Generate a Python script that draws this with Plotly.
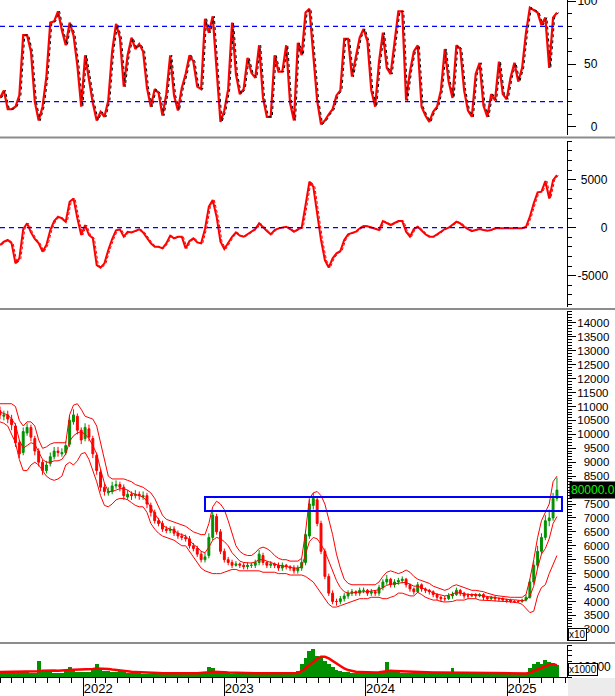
import pandas as pd
import plotly.graph_objects as go

# ---------------- data (sampled every 10 days) ----------------
start_date = "2021-05-31"
n_samples = 145

price_open = [10850,10650,10700,10550,10300,9700,9350,10050,10250,9850,
              9400,9000,8700,8950,9200,9400,9300,9350,9650,10450,
              10650,10150,9850,10200,9850,9250,8650,8100,7900,7950,
              8150,8200,8100,7750,7850,7800,7850,7750,7800,7450,
              7200,6900,6800,6600,6550,6600,6450,6350,6300,6250,
              6000,5900,5700,5500,5650,6300,7050,6500,5800,5500,
              5400,5300,5350,5300,5250,5300,5300,5400,5650,5400,
              5300,5350,5300,5200,5300,5250,5200,5100,5200,5400,
              6350,7450,7650,6800,5800,4900,4300,4000,4000,4100,
              4200,4300,4350,4300,4400,4400,4300,4350,4300,4500,
              4700,4800,4600,4700,4750,4800,4600,4450,4350,4600,
              4450,4400,4350,4250,4150,4100,4100,4200,4250,4400,
              4300,4200,4200,4250,4200,4250,4150,4100,4150,4100,
              4100,4050,4050,4000,4000,4000,4050,4150,4700,5300,
              5800,6300,6900,7000,7700]
price_high = [11000,10850,10850,10700,10400,9800,10250,10400,10350,9950,
              9500,9100,9050,9350,9550,9550,9500,9750,10650,10900,
              10750,10250,10400,10350,9950,9350,8750,8250,8100,8300,
              8350,8300,8200,8000,7950,8000,7950,7950,7900,7550,
              7300,7000,6900,6700,6700,6700,6550,6450,6400,6350,
              6100,6000,5800,5750,6450,7300,7150,6600,5900,5600,
              5500,5450,5400,5400,5400,5400,5500,5850,5750,5450,
              5450,5400,5400,5400,5350,5300,5300,5300,5550,6550,
              7650,7900,7750,6900,5900,5000,4400,4100,4200,4300,
              4400,4450,4400,4500,4500,4450,4450,4400,4600,4800,
              4950,4850,4800,4850,4900,4850,4650,4500,4700,4650,
              4500,4450,4400,4300,4200,4200,4300,4350,4500,4450,
              4350,4300,4300,4300,4300,4300,4200,4200,4200,4150,
              4150,4100,4100,4050,4050,4100,4250,4800,5450,6000,
              6450,7100,7300,7900,8450]
price_low = [10550,10500,10400,10150,9550,9150,9250,9950,9750,9250,
             8850,8550,8600,8850,9100,9200,9200,9250,9550,10350,
             10000,9650,9750,9750,9150,8550,7950,7800,7800,7850,
             8050,7950,7650,7650,7650,7700,7650,7650,7350,7050,
             6800,6700,6500,6450,6450,6350,6250,6200,6150,5900,
             5800,5600,5400,5400,5550,6200,6400,5700,5400,5300,
             5200,5250,5200,5150,5150,5200,5200,5300,5300,5200,
             5200,5200,5100,5100,5150,5100,5000,5000,5100,5300,
             6250,7300,6700,5700,4800,4200,3900,3850,3900,4000,
             4100,4200,4200,4200,4300,4200,4200,4200,4200,4400,
             4600,4500,4500,4600,4650,4500,4350,4250,4300,4350,
             4300,4250,4150,4050,4000,4000,4050,4100,4200,4200,
             4100,4100,4150,4100,4150,4050,4050,4050,4000,4000,
             4000,3950,3950,3950,3950,3950,4000,4100,4600,5200,
             5700,6200,6700,6900,7600]
price_close = [10700,10700,10550,10350,9700,9300,10100,10250,9900,9400,
               9000,8700,8900,9200,9400,9350,9350,9600,10500,10700,
               10150,9800,10250,9900,9300,8700,8100,7950,7950,8150,
               8200,8100,7800,7850,7800,7850,7800,7800,7500,7200,
               6900,6800,6600,6550,6600,6450,6350,6300,6250,6000,
               5900,5700,5500,5600,6300,7100,6500,5800,5500,5400,
               5300,5350,5300,5250,5300,5300,5400,5700,5400,5300,
               5350,5300,5200,5300,5250,5200,5100,5200,5400,6400,
               7500,7700,6800,5800,4900,4300,4000,4000,4100,4200,
               4300,4350,4300,4400,4400,4300,4350,4300,4500,4700,
               4800,4600,4700,4750,4800,4600,4450,4350,4600,4450,
               4400,4350,4250,4150,4100,4100,4200,4250,4400,4300,
               4200,4200,4250,4200,4250,4150,4100,4150,4100,4100,
               4050,4050,4000,4000,4000,4050,4150,4700,5300,5800,
               6300,6900,7000,7700,8000]
band_upper = [11100,11100,11100,11100,11000,10500,10300,10450,10450,10300,
              9800,9500,9550,9650,9700,9700,9700,9700,10700,11050,
              11100,10900,10650,10600,10550,10300,9700,9000,8500,8400,
              8400,8400,8400,8350,8300,8200,8150,8100,8000,7900,
              7700,7400,7100,6950,6900,6850,6800,6750,6700,6600,
              6500,6450,6400,6400,6800,7400,7600,7500,7300,6900,
              6400,6000,5800,5700,5650,5650,5750,5900,5950,5900,
              5800,5650,5550,5500,5500,5450,5450,5450,5550,6500,
              7700,7900,7950,7800,7500,7000,6400,5700,5200,4800,
              4650,4600,4600,4600,4600,4600,4600,4600,4700,4900,
              5050,5100,5050,5000,5050,5130,5050,4900,4800,4750,
              4700,4650,4550,4500,4450,4400,4450,4550,4600,4550,
              4500,4450,4400,4400,4380,4350,4300,4250,4220,4200,
              4180,4160,4150,4150,4150,4150,4250,4800,5500,6300,
              6900,7200,7500,8300,8500]
band_middle = [10800,10750,10700,10550,10350,9800,9500,9600,9700,9650,
               9350,9100,9000,9000,9050,9050,9100,9300,9750,9950,
               10050,10100,10000,9850,9600,9300,8750,8250,7950,7950,
               8000,8050,8050,8000,7900,7850,7800,7750,7600,7350,
               7150,6950,6750,6650,6600,6550,6450,6400,6350,6200,
               6050,5950,5800,5750,5950,6200,6300,6250,6150,6000,
               5750,5600,5450,5400,5380,5380,5420,5500,5500,5450,
               5400,5350,5300,5280,5250,5220,5200,5200,5250,5700,
               6150,6300,6250,6050,5800,5450,5100,4750,4500,4350,
               4300,4300,4330,4350,4350,4350,4370,4380,4420,4500,
               4580,4620,4630,4650,4680,4680,4620,4550,4550,4500,
               4430,4380,4300,4270,4230,4200,4220,4270,4320,4300,
               4270,4250,4250,4250,4220,4200,4170,4150,4120,4100,
               4080,4070,4060,4060,4050,4030,4050,4200,4550,5200,
               5700,5900,6250,6800,7050]
band_lower = [10450,10400,10300,10000,9700,9100,8700,8700,8900,9000,
              8900,8700,8500,8400,8350,8400,8500,8900,9000,8900,
              9050,9300,9350,9100,8700,8300,7800,7450,7400,7500,
              7650,7700,7700,7650,7550,7450,7400,7400,7200,6800,
              6600,6450,6350,6300,6250,6200,6100,6000,6000,5800,
              5600,5400,5200,5100,5050,5000,5000,5000,5050,5100,
              5150,5150,5100,5100,5100,5100,5100,5100,5050,5050,
              5050,5050,5000,5000,5000,4950,4950,4950,4950,4900,
              4800,4700,4500,4300,4100,3900,3800,3800,3850,3900,
              3950,4000,4050,4100,4100,4100,4150,4150,4150,4100,
              4100,4150,4200,4300,4300,4250,4200,4200,4330,4250,
              4150,4100,4050,4050,4000,3980,4000,4000,4050,4050,
              4050,4100,4100,4100,4050,4050,4050,4030,4020,4000,
              4000,4000,3980,3980,3950,3900,3750,3600,3650,4200,
              4500,4600,5000,5300,5650]
stoch_k = [23,29,14,14,16,25,73,73,60,20,
           5,16,40,83,84,92,77,65,83,73,
           49,16,57,36,19,5,12,8,21,60,
           82,71,32,57,71,62,66,60,31,16,
           30,27,9,26,57,25,13,31,42,57,
           52,32,30,86,75,88,42,4,13,30,
           83,42,26,30,55,43,39,65,23,8,
           8,57,44,44,65,19,5,67,57,91,
           94,57,21,2,5,10,14,25,29,70,
           70,40,57,71,78,68,29,16,52,75,
           47,42,67,92,92,21,44,60,65,16,
           9,4,12,16,29,62,36,23,65,62,
           29,13,8,42,51,17,8,26,21,52,
           26,22,39,51,36,47,75,95,93,91,
           81,87,47,87,91]
macd_line = [-1800,-1460,-1280,-1630,-3710,-3190,-140,450,-490,-1180,
             -1630,-2500,-1800,-240,690,1150,970,620,2700,3050,
             970,-760,280,-760,-1110,-3890,-4160,-3710,-2320,-1180,
             -280,-170,-940,-420,-490,-350,-170,-490,-1110,-1630,
             -1980,-1980,-2150,-1630,-830,-1110,-940,-940,-2150,-1390,
             -1110,-1530,-1630,-140,2190,2880,1150,-1460,-2220,-1530,
             -940,-490,-830,-940,-690,-350,-140,450,0,-350,
             -690,-240,-70,0,100,-140,-420,-170,0,2360,
             4790,4270,1490,-1280,-3370,-4160,-3190,-2670,-2430,-1280,
             -690,-590,-420,-70,170,140,0,-140,-240,690,
             490,280,490,690,690,-420,-940,-140,100,-350,
             -690,-940,-940,-690,-420,-140,0,280,620,450,
             100,-140,-350,-240,-140,-240,-310,-240,-70,-70,
             -70,-70,-70,-70,-70,-70,100,1150,2530,3680,
             3750,4860,3050,4960,5480]
volume_k = [4000,4200,4000,3800,4000,4500,5000,4500,4000,4000,
            15000,6000,5000,4500,4200,4000,4000,6000,9000,6000,
            4500,4500,5000,4500,7000,12000,8000,6000,5500,5000,
            4800,5500,4500,4000,3800,3500,3500,3200,3000,3000,
            2800,2800,2500,2500,2500,2500,2500,2600,2500,3000,
            3000,3000,3500,4000,9000,8000,5000,4000,3500,3500,
            3000,3200,3000,3000,3000,3500,3000,4000,3000,3000,
            3000,3000,3000,3000,3000,3000,3200,6000,12000,18000,
            24000,26000,20000,18000,15000,12000,9000,7000,6000,5000,
            4500,4000,4000,3800,3800,3500,3500,3500,4000,4500,
            14000,6000,5000,4500,4000,3800,3800,3500,3500,3500,
            3800,3800,3500,3500,3500,3500,3800,8000,4500,4000,
            4000,3800,3800,3500,3500,3500,3500,3500,3200,3200,
            3200,3000,3000,3000,3000,3200,3500,8000,12000,14000,
            12000,16000,14000,13000,11000]
volume_ma = [4800,4800,4800,4800,4800,4800,4900,5000,5000,5000,
             5500,5800,6000,6000,6000,5800,5800,6000,6500,6800,
             6800,6800,7000,7200,7500,8000,8000,7800,7500,7000,
             6500,6000,5500,5200,5000,4800,4500,4300,4200,4000,
             3800,3700,3600,3500,3400,3400,3300,3300,3300,3400,
             3400,3500,3600,3800,4500,5000,5000,4800,4500,4200,
             4000,3800,3600,3500,3500,3500,3500,3600,3600,3500,
             3400,3400,3300,3300,3300,3300,3300,3800,5500,8000,
             11000,14000,17000,19000,19000,17500,15000,12500,10000,8000,
             6500,5500,5000,4800,4500,4300,4200,4200,4500,5000,
             5500,5800,5600,5400,5200,5000,4800,4700,4600,4500,
             4400,4300,4200,4200,4200,4100,4100,4300,4500,4500,
             4400,4300,4200,4100,4000,3900,3900,3800,3700,3600,
             3500,3400,3300,3200,3200,3200,3300,4000,5500,7000,
             8500,10000,11500,12000,11000]

# resistance zone (blue box)
zone_start, zone_end = "2022-11-12", "2025-05-23"
zone_low, zone_high = 7250, 7750
last_price_label = "80000.0"

price_ticks = list(range(3000, 14001, 500))

for arr in (price_open, price_high, price_low, price_close, band_upper, band_middle,
            band_lower, stoch_k, macd_line, volume_k, volume_ma):
    assert len(arr) == n_samples, len(arr)

dates = pd.date_range(start_date, periods=n_samples, freq="10D")
lag_dates = dates + pd.Timedelta(days=4)

RED = "#FF0000"
GREEN = "#009000"
BLUE = "#0000FF"
FONT = "Liberation Sans, Arial, sans-serif"
FS = "\u2007"   # figure space (digit width)
PS = "\u2008"   # punctuation space

fig = go.Figure()

# --- oscillator panel ---
fig.add_trace(go.Scatter(x=dates, y=stoch_k, mode="lines", line=dict(color=RED, width=2.2),
                         xaxis="x", yaxis="y"))
fig.add_trace(go.Scatter(x=lag_dates, y=stoch_k, mode="lines",
                         line=dict(color="black", width=1, dash="3px,3px"), xaxis="x", yaxis="y"))

# --- MACD panel ---
fig.add_trace(go.Scatter(x=lag_dates, y=macd_line, mode="lines",
                         line=dict(color=RED, width=1, dash="3px,2px"), xaxis="x", yaxis="y2"))
fig.add_trace(go.Scatter(x=dates, y=macd_line, mode="lines", line=dict(color=RED, width=2),
                         xaxis="x", yaxis="y2"))

# --- price panel ---
for band in (band_upper, band_middle, band_lower):
    fig.add_trace(go.Scatter(x=dates, y=band, mode="lines", line=dict(color=RED, width=1),
                             xaxis="x", yaxis="y3"))
fig.add_trace(go.Candlestick(x=dates, open=price_open, high=price_high, low=price_low,
                             close=price_close, xaxis="x", yaxis="y3", whiskerwidth=0,
                             increasing=dict(line=dict(color=GREEN, width=1), fillcolor=GREEN),
                             decreasing=dict(line=dict(color=RED, width=1), fillcolor=RED)))

# --- volume panel ---
fig.add_trace(go.Bar(x=dates, y=volume_k, marker=dict(color=GREEN, line=dict(width=0)),
                     xaxis="x", yaxis="y4"))
fig.add_trace(go.Scatter(x=dates, y=volume_ma, mode="lines", line=dict(color=RED, width=2.5),
                         xaxis="x", yaxis="y4"))

W, H = 615, 696
xr = 567 / W


def dom(top_px, bot_px):
    return [1 - bot_px / H, 1 - top_px / H]


tickfont = dict(family=FONT, size=12, color="black")
common_y = dict(side="right", anchor="x", showgrid=False, zeroline=False, showline=True,
                linecolor="black", linewidth=1, ticks="outside", ticklen=8, tickwidth=1,
                tickcolor="black", tickfont=tickfont, ticklabelstandoff=-1, fixedrange=True,
                automargin=False, ticklabeloverflow="allow")

fig.update_layout(
    template="none",
    width=W, height=H, margin=dict(l=0, r=0, t=0, b=0, pad=0, autoexpand=False),
    paper_bgcolor="white", plot_bgcolor="white", showlegend=False,
    bargap=0, hovermode=False,
    xaxis=dict(domain=[0, xr], anchor="y4", range=["2021-05-31", "2025-06-05"],
               automargin=False, ticklabeloverflow="allow", fixedrange=True,
               showgrid=False, zeroline=False, showline=True, linecolor="black", linewidth=1,
               rangeslider=dict(visible=False), tickmode="linear", tick0="2022-01-01",
               dtick="M12", tickformat="%Y", ticks="outside", ticklen=19, tickcolor="black",
               tickwidth=1, tickfont=dict(family=FONT, size=13, color="black"),
               ticklabelshift=15, ticklabelstandoff=-20,
               minor=dict(dtick="M1", tick0="2022-01-01", ticks="outside", ticklen=5,
                          tickcolor="black", tickwidth=1)),
    yaxis=dict(domain=dom(0, 135), range=[-6.5, 101], tickmode="array",
               tickvals=[0, 50, 100], ticktext=[FS + FS + "0", FS + "50", "100"],
               minor=dict(tickmode="linear", tick0=0, dtick=10, ticks="outside", ticklen=4,
                          tickcolor="black"),
               **common_y),
    yaxis2=dict(domain=dom(141, 307), range=[-8260, 9031], tickmode="array",
                tickvals=[-5000, 0, 5000],
                ticktext=["-5000", PS + FS + FS + FS + "0", PS + "5000"],
                minor=dict(tickmode="linear", tick0=0, dtick=1000, ticks="outside", ticklen=4,
                           tickcolor="black"),
                **common_y),
    yaxis3=dict(domain=dom(311, 641), range=[2581, 14430], tickmode="array",
                tickvals=price_ticks,
                ticktext=[(str(v) if v >= 10000 else FS + str(v)) for v in price_ticks],
                minor=dict(tickmode="linear", tick0=0, dtick=100, ticks="outside", ticklen=4,
                           tickcolor="black"),
                **{**common_y, "tickfont": dict(family=FONT, size=11.5, color="black")}),
    yaxis4=dict(domain=dom(645, 677), range=[0, 30000], tickmode="array",
                tickvals=[10000], ticktext=["10000"],
                minor=dict(tickmode="linear", tick0=0, dtick=5000, ticks="outside", ticklen=4,
                           tickcolor="black"),
                **common_y),
)

shapes = []
# reference dashed lines
for yv in (80, 20):
    shapes.append(dict(type="line", xref="x domain", yref="y", x0=0, x1=1, y0=yv, y1=yv,
                       line=dict(color=BLUE, width=1.3, dash="5px,4px")))
shapes.append(dict(type="line", xref="x domain", yref="y2", x0=0, x1=1, y0=0, y1=0,
                   line=dict(color=BLUE, width=1.3, dash="5px,4px")))
# resistance zone
shapes.append(dict(type="rect", xref="x", yref="y3", x0=zone_start, x1=zone_end,
                   y0=zone_low, y1=zone_high, line=dict(color=BLUE, width=2),
                   fillcolor="rgba(0,0,0,0)"))
# panel separators
for ypx in (137.5, 309, 643):
    shapes.append(dict(type="line", xref="paper", yref="paper", x0=0, x1=1,
                       y0=1 - ypx / H, y1=1 - ypx / H, line=dict(color="#8c8c8c", width=2)))
# grey corner under the value axes
shapes.append(dict(type="rect", xref="paper", yref="paper", x0=xr + 1 / W, x1=1, y0=0,
                   y1=1 - 678 / H, fillcolor="#ECECEC", line=dict(width=0)))
fig.update_layout(shapes=shapes)

fig.update_layout(annotations=[
    dict(xref="paper", yref="y3", x=569 / W, y=price_close[-1], xanchor="left",
         yanchor="middle", text=last_price_label, showarrow=False,
         font=dict(family=FONT, size=12, color="#00FF00"), bgcolor="black", borderpad=1),
    dict(xref="paper", yref="paper", x=568 / W, y=1 - 641 / H, xanchor="left",
         yanchor="bottom", text="x10", showarrow=False,
         font=dict(family=FONT, size=10, color="black"), bgcolor="white",
         bordercolor="black", borderwidth=1, borderpad=0),
    dict(xref="paper", yref="paper", x=568 / W, y=1 - 676 / H, xanchor="left",
         yanchor="bottom", text="x1000", showarrow=False,
         font=dict(family=FONT, size=10, color="black"), bgcolor="white",
         bordercolor="black", borderwidth=1, borderpad=0),
])

fig.write_html("out.html", config={"displayModeBar": False, "staticPlot": True},
               post_script="document.body.style.margin='0px';document.body.style.overflow='hidden';")
